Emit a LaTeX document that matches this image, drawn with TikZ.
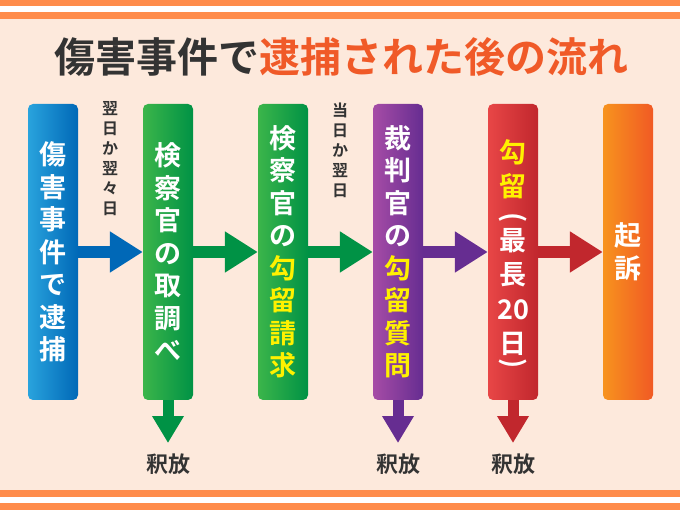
\documentclass[tikz,border=0pt]{standalone}
\usepackage{fontspec}
\setmainfont{Noto Sans CJK JP}[BoldFont=* Bold]
\usetikzlibrary{arrows.meta}
\definecolor{bg}{RGB}{253,233,220}
\definecolor{band}{RGB}{255,140,75}
\definecolor{dark}{RGB}{51,51,51}
\definecolor{accent}{RGB}{240,90,40}
\definecolor{yel}{RGB}{255,241,0}
\definecolor{blueL}{RGB}{41,163,221}\definecolor{blueR}{RGB}{0,104,183}
\definecolor{greenL}{RGB}{59,181,74}\definecolor{greenR}{RGB}{0,146,69}
\definecolor{purL}{RGB}{166,76,166}\definecolor{purR}{RGB}{102,45,145}
\definecolor{redL}{RGB}{232,70,70}\definecolor{redR}{RGB}{193,39,45}
\definecolor{orL}{RGB}{247,147,30}\definecolor{orR}{RGB}{241,90,36}
\tikzset{
  boxfont/.style={text=white, align=center, font=\fontsize{27}{32.5}\selectfont\bfseries},
  flowbox/.style={rectangle, rounded corners=5pt, minimum width=50pt, minimum height=296pt,
    inner sep=0pt, boxfont},
  hflow/.style={line width=12pt, -{Triangle[length=33pt,width=39pt]}},
  vflow/.style={line width=11pt, -{Triangle[length=27pt,width=30pt]}},
  steplabel/.style={text=dark, align=center, font=\fontsize{16}{20}\selectfont\bfseries},
  releaselabel/.style={text=dark, font=\fontsize{22}{26}\selectfont\bfseries},
}
\begin{document}
\begin{tikzpicture}[x=1pt,y=-1pt]
\useasboundingbox (0,0) rectangle (680,510);
\fill[bg] (0,0) rectangle (680,510);
\fill[band] (0,0) rectangle (680,6);
\fill[white] (0,6) rectangle (680,12.5);
\fill[band] (0,12.5) rectangle (680,19);
\fill[band] (0,490) rectangle (680,496.5);
\fill[white] (0,496.5) rectangle (680,503);
\fill[band] (0,503) rectangle (680,510);

\node[font=\fontsize{41}{45}\selectfont\bfseries] (title) at (341,57)
  {\textcolor{dark}{傷害事件で}\textcolor{accent}{逮捕された後の流れ}};

\node[flowbox, left color=blueL, right color=blueR] (b1) at (53,252)
  {傷\\害\\事\\件\\で\\逮\\捕};
\node[flowbox, left color=greenL, right color=greenR] (b2) at (168,252)
  {検\\察\\官\\の\\取\\調\\べ};
\node[flowbox, left color=greenL, right color=greenR] (b3) at (283,252)
  {検\\察\\官\\の\\\textcolor{yel}{勾}\\\textcolor{yel}{留}\\\textcolor{yel}{請}\\\textcolor{yel}{求}};
\node[flowbox, left color=purL, right color=purR] (b4) at (398,252)
  {裁\\判\\官\\の\\\textcolor{yel}{勾}\\\textcolor{yel}{留}\\\textcolor{yel}{質}\\\textcolor{yel}{問}};
\node[flowbox, left color=redL, right color=redR] (b5) at (513,252) {};
\node[boxfont, text=yel, font=\fontsize{27}{34}\selectfont\bfseries, inner sep=0pt] (b5a) at (513,169.5) {勾\\留};
\node[boxfont, rotate=-90, inner sep=0pt] (b5p) at (513,218) {(};
\node[boxfont, font=\fontsize{27}{34.3}\selectfont\bfseries, inner sep=0pt] (b5b) at (513,292) {最\\長\\20\\日};
\node[boxfont, rotate=-90, inner sep=0pt] (b5q) at (513,364) {)};
\node[flowbox, left color=orL, right color=orR] (b6) at (628,252)
  {起\\訴};

\draw[hflow, blueR] (b1.east) -- (b2.west);
\draw[hflow, greenR] (b2.east) -- (b3.west);
\draw[hflow, greenR] (b3.east) -- (b4.west);
\draw[hflow, purR] (b4.east) -- (b5.west);
\draw[hflow, redR] (b5.east) -- (b6.west);

\node[steplabel] (l1) at (110,159) {翌\\日\\か\\翌\\々\\日};
\node[steplabel] (l2) at (340,150) {当\\日\\か\\翌\\日};

\coordinate (t2) at (168,443);
\coordinate (t4) at (398,443);
\coordinate (t5) at (513,443);
\draw[vflow, greenR] (b2.south) -- (t2);
\draw[vflow, purR] (b4.south) -- (t4);
\draw[vflow, redR] (b5.south) -- (t5);
\node[releaselabel] (r2) at (168,464) {釈放};
\node[releaselabel] (r4) at (398,464) {釈放};
\node[releaselabel] (r5) at (513,464) {釈放};
\end{tikzpicture}
\end{document}
